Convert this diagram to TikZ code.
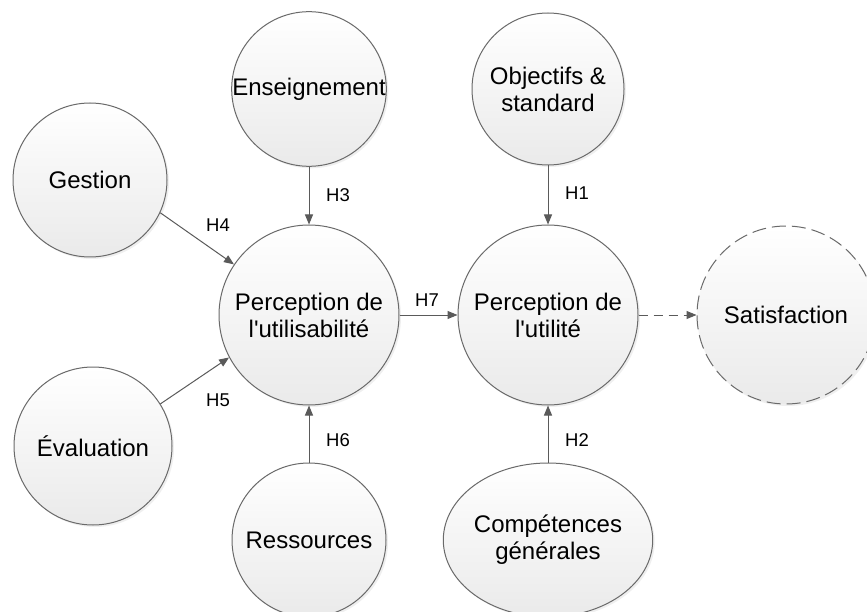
\documentclass[tikz,border=0pt]{standalone}
\usepackage{fontspec}
\setmainfont{Liberation Sans}[Ligatures=TeXOff]
\usetikzlibrary{shapes.geometric,shadows,arrows.meta}
\definecolor{edgegray}{HTML}{5A5A5A}
\definecolor{bordergray}{HTML}{6A6A6A}
\definecolor{fillbottom}{HTML}{EAEAEA}
\tikzset{
  bubble/.style={circle, draw=bordergray, line width=1pt, top color=white, bottom color=fillbottom,
    drop shadow={opacity=0.12, shadow xshift=2pt, shadow yshift=-2pt},
    inner sep=0pt, align=center, font=\fontsize{24}{27}\selectfont, text=black},
  link/.style={draw=edgegray, line width=1pt, -{Triangle[length=10pt,width=8pt]}},
  hlabel/.style={font=\fontsize{18.5}{20}\selectfont, text=black, inner sep=0pt},
}
\begin{document}
\begin{tikzpicture}[x=1pt, y=-1pt]
  \useasboundingbox (0,0) rectangle (867,612);
  \clip (0,0) rectangle (867,612);
  \fill[white] (0,0) rectangle (867,612);

  \node[bubble, minimum size=154pt] (gestion) at (90,180) {Gestion};
  \node[bubble, minimum size=152pt] (enseign) at (309,89) {Enseignement};
  \node[bubble, minimum size=152pt] (objectifs) at (548,89) {Objectifs \&\\standard};
  \node[bubble, minimum size=180pt] (pu) at (309,315) {Perception de\\l'utilisabilité};
  \node[bubble, minimum size=180pt] (putil) at (548,315) {Perception de\\l'utilité};
  \node[bubble, minimum size=178pt, dash pattern=on 14pt off 6pt] (satisf) at (786,315) {Satisfaction};
  \node[bubble, minimum size=158pt] (eval) at (93,446) {Évaluation};
  \node[bubble, minimum size=154pt] (ressources) at (309,540) {Ressources};
  \node[bubble, ellipse, minimum width=180pt, minimum height=154pt] (comp) at (548,540) {Compétences\\générales};

  \draw[link] (enseign) -- (pu);
  \draw[link] (gestion.-25) -- (pu.146);
  \draw[link] (eval.32) -- (pu.-152);
  \draw[link] (ressources) -- (pu);
  \draw[link] (objectifs) -- (putil);
  \draw[link] (comp) -- (putil);
  \draw[link] (pu) -- (putil);
  \draw[link, dash pattern=on 9pt off 6pt] (putil) -- (satisf);

  \node[hlabel] (h1) at (577,193) {H1};
  \node[hlabel] (h2) at (577,440) {H2};
  \node[hlabel] (h3) at (338,195) {H3};
  \node[hlabel] (h4) at (218,225) {H4};
  \node[hlabel] (h5) at (218,400) {H5};
  \node[hlabel] (h6) at (338,440) {H6};
  \node[hlabel] (h7) at (427,300) {H7};
\end{tikzpicture}
\end{document}
